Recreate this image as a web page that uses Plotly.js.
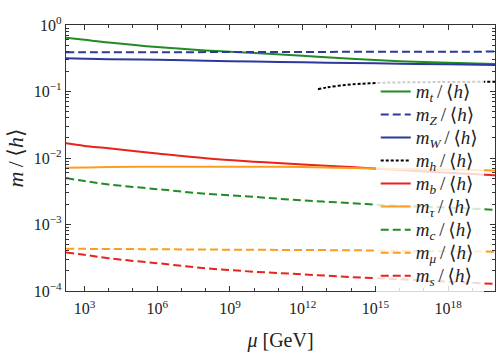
<!DOCTYPE html>
<html>
<head>
<meta charset="utf-8">
<script src="https://cdn.plot.ly/plotly-3.0.1.min.js"></script>
<style>body{margin:0;background:#fff}#chart{width:498px;height:352px}</style>
</head>
<body>
<div id="chart"></div>
<script>
// log10(mu / GeV) sample points
var logMu = [2.24, 3, 4, 6, 8, 10, 12, 14, 16, 18, 19.93];

var m_t   = [0.645, 0.60, 0.545, 0.465, 0.415, 0.38, 0.345, 0.31, 0.285, 0.27, 0.26];
var m_Z   = [0.388, 0.388, 0.389, 0.39, 0.391, 0.392, 0.393, 0.395, 0.396, 0.397, 0.398];
var m_W   = [0.316, 0.311, 0.306, 0.30, 0.29, 0.282, 0.275, 0.268, 0.262, 0.256, 0.25];
var m_b   = [0.0166, 0.0152, 0.014, 0.0117, 0.0099, 0.0088, 0.008, 0.0073, 0.0066, 0.006, 0.0055];
var m_tau = [0.00715, 0.0072, 0.0073, 0.0074, 0.0074, 0.0074, 0.0073, 0.0071, 0.0068, 0.0067, 0.0065];
var m_c   = [0.0050, 0.0045, 0.0040, 0.0034, 0.0029, 0.0026, 0.0023, 0.0021, 0.0019, 0.0018, 0.00166];
var m_mu  = [0.00043, 0.00043, 0.000428, 0.000425, 0.00042, 0.000417, 0.000413, 0.00041, 0.000402, 0.000395, 0.00039];
var m_s   = [0.00038, 0.00035, 0.00031, 0.000262, 0.00022, 0.000195, 0.000178, 0.000162, 0.00015, 0.000138, 0.000128];

// Higgs curve only starts around 10^12.6 GeV
var logMuH = [12.63, 13, 13.8, 14.5, 15.2, 16, 17, 18, 19.93];
var m_h    = [0.108, 0.115, 0.126, 0.131, 0.135, 0.137, 0.138, 0.139, 0.14];

var green = '#228b22', blue = '#2b3a9c', red = '#e8231a', orange = '#ff9c1f';
var dashed = '8px,4px';

function mu(arr) { return arr.map(function (l) { return Math.pow(10, l); }); }
// bigger glyphs inside a span, legend font.size stays small so rows keep tight spacing
function lbl(sub) {
  return '<span style="font-size:19px"><i>m</i><sub><i>' + sub + '</i></sub>\u2009/\u2009⟨<i>h</i>⟩</span>';
}

function series(name, xs, ys, color, dash) {
  return {
    x: mu(xs), y: ys, name: lbl(name), mode: 'lines', type: 'scatter',
    line: {color: color, width: 2, dash: dash || 'solid', shape: 'spline'}
  };
}

var traces = [
  series('t', logMu, m_t, green),
  series('Z', logMu, m_Z, blue, dashed),
  series('W', logMu, m_W, blue),
  series('h', logMuH, m_h, '#000', '3px,2px'),
  series('b', logMu, m_b, red),
  series('τ', logMu, m_tau, orange),
  series('c', logMu, m_c, green, dashed),
  series('μ', logMu, m_mu, orange, dashed),
  series('s', logMu, m_s, red, dashed)
];

var xTicks = [3, 6, 9, 12, 15, 18];
var yTicks = [0, -1, -2, -3, -4];
var serif = 'Liberation Serif, DejaVu Serif, serif';

var layout = {
  width: 498, height: 352,
  margin: {l: 66, r: 3, t: 25, b: 61},
  paper_bgcolor: '#fff', plot_bgcolor: '#fff',
  font: {family: serif, color: '#222', size: 16},
  showlegend: true,
  legend: {
    x: 0.722, xanchor: 'left', y: 0.812, yanchor: 'top',
    bgcolor: 'rgba(255,255,255,0.8)', borderwidth: 0,
    font: {family: serif, size: 15.4, color: '#222'},
    tracegroupgap: 0, itemwidth: 30
  },
  xaxis: {
    type: 'log', range: [2.24, 19.93],
    tickvals: mu(xTicks),
    ticktext: xTicks.map(function (e) { return '10<sup>' + e + '</sup>'; }),
    ticks: 'inside', ticklen: 5, tickcolor: '#333',
    minor: {dtick: 1, ticks: 'inside', ticklen: 3, tickcolor: '#333', showgrid: false},
    showline: true, linecolor: '#333', linewidth: 1.2, mirror: 'allticks',
    showgrid: false, zeroline: false,
    ticklabelstandoff: 3,
    tickfont: {family: serif, size: 16},
    title: {text: '<i>μ</i> [GeV]', font: {family: serif, size: 20}, standoff: 20}
  },
  yaxis: {
    type: 'log', range: [-4, 0],
    tickvals: yTicks.map(function (e) { return Math.pow(10, e); }),
    ticktext: yTicks.map(function (e) { return '10<sup>' + (e < 0 ? '−' + (-e) : e) + '</sup>'; }),
    ticks: 'inside', ticklen: 5, tickcolor: '#333',
    minor: {dtick: 'D1', ticks: 'inside', ticklen: 3, tickcolor: '#333', showgrid: false},
    showline: true, linecolor: '#333', linewidth: 1.2, mirror: 'allticks',
    showgrid: false, zeroline: false,
    tickfont: {family: serif, size: 16},
    title: {text: '<i>m</i>\u2009/\u2009⟨<i>h</i>⟩', font: {family: serif, size: 22}, standoff: 4}
  }
};

Plotly.newPlot('chart', traces, layout, {staticPlot: true});
</script>
</body>
</html>
